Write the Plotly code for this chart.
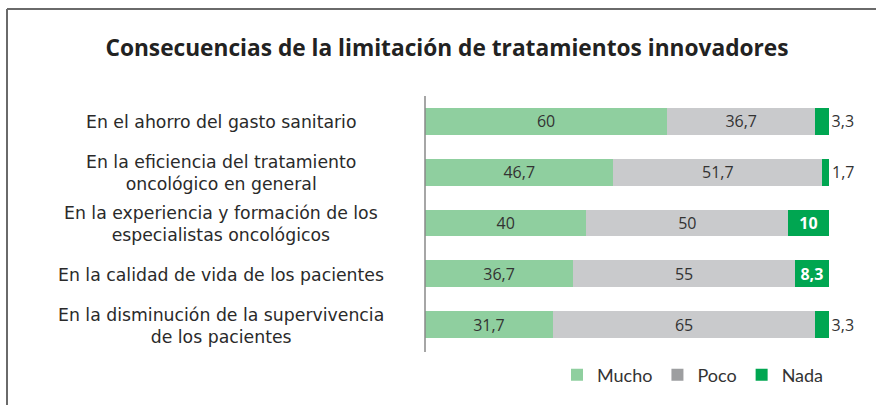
import plotly.graph_objects as go

categories = [
    "En el ahorro del gasto sanitario",
    "En la eficiencia del tratamiento<br>oncológico en general",
    "En la experiencia y formación de los<br>especialistas oncológicos",
    "En la calidad de vida de los pacientes",
    "En la disminución de la supervivencia<br>de los pacientes",
]
mucho = [60, 46.7, 40, 36.7, 31.7]
poco = [36.7, 51.7, 50, 55, 65]
nada = [3.3, 1.7, 10, 8.3, 3.3]
series_names = ["Mucho", "Poco", "Nada"]

bar_colors = ["#8fcf9f", "#c9cacc", "#00a651"]
legend_colors = ["#8fcf9f", "#9d9ea0", "#00a651"]

W, H = 876, 405
L, R, T, B = 425, 47, 96, 55
pw, ph = W - L - R, H - T - B


def px2x(px):
    return (px - L) / pw


def px2y(py):
    return 1 - (py - T) / ph


def fmt(v):
    return f"{v:g}".replace(".", ",")


ids = list(range(len(categories)))
xmax = max(a + b + c for a, b, c in zip(mucho, poco, nada))

fig = go.Figure()

# legend-only traces
for name, col in zip(series_names, legend_colors):
    fig.add_trace(go.Bar(
        x=[0], y=[ids[0]], orientation="h", name=name,
        marker=dict(color=col, line=dict(width=0)),
        hoverinfo="skip", showlegend=True,
    ))

NUM_FONT = "Open Sans"
for name, vals, col in zip(series_names, [mucho, poco, nada], bar_colors):
    if name == "Nada":
        pos = ["inside" if v >= 5 else "outside" for v in vals]
        tcol = ["white" if v >= 5 else "#333333" for v in vals]
        texts = [f"<b>{fmt(v)}</b>" if v >= 5 else fmt(v) for v in vals]
    else:
        pos = ["inside"] * len(vals)
        tcol = ["#333333"] * len(vals)
        texts = [fmt(v) for v in vals]
    fig.add_trace(go.Bar(
        x=vals, y=ids, orientation="h", name=name,
        marker=dict(color=col, line=dict(width=0)),
        text=texts, textposition=pos, insidetextanchor="middle",
        textangle=0,
        textfont=dict(color=tcol, size=16, family=NUM_FONT),
        outsidetextfont=dict(color="#333333", size=16, family=NUM_FONT),
        insidetextfont=dict(color=tcol, size=16, family=NUM_FONT),
        constraintext="none", cliponaxis=False,
        showlegend=False, width=0.53,
    ))

annotations = []
for i, c in enumerate(categories):
    annotations.append(dict(
        x=px2x(221), xref="paper", y=i, yref="y", yshift=-1,
        text=c, showarrow=False, xanchor="center", yanchor="middle",
        align="center", borderpad=0,
        font=dict(family="DejaVu Sans", size=17.3, color="#2a2a2a"),
    ))

shapes = [
    dict(type="line", xref="paper", yref="paper",
         x0=px2x(7), x1=px2x(7), y0=px2y(9), y1=px2y(410),
         line=dict(color="#6a6a6a", width=2)),
    dict(type="line", xref="paper", yref="paper",
         x0=px2x(7), x1=px2x(880), y0=px2y(9), y1=px2y(9),
         line=dict(color="#6a6a6a", width=2)),
    dict(type="line", xref="paper", yref="paper",
         x0=0, x1=0, y0=px2y(96), y1=px2y(352),
         line=dict(color="#888888", width=1.5)),
]

fig.update_layout(
    width=W, height=H,
    margin=dict(l=L, r=R, t=T, b=B),
    barmode="stack",
    plot_bgcolor="white", paper_bgcolor="white",
    title=dict(
        text="<b>Consecuencias de la limitación de tratamientos innovadores</b>",
        x=447 / W, xref="container", xanchor="center",
        y=1 - 48 / H, yref="container", yanchor="middle",
        font=dict(family="Open Sans", size=22.7, color="#222222"),
    ),
    xaxis=dict(range=[0, xmax], visible=False, fixedrange=True),
    yaxis=dict(range=[4.5, -0.5], showticklabels=False, showgrid=False,
               zeroline=False, showline=False, fixedrange=True),
    legend=dict(
        orientation="h", x=1.0, xanchor="right", y=px2y(375), yanchor="middle",
        font=dict(family="Lato", size=18, color="#333333"),
        traceorder="normal", itemwidth=30,
    ),
    annotations=annotations,
    shapes=shapes,
    showlegend=True,
)

fig.write_html("out.html")
